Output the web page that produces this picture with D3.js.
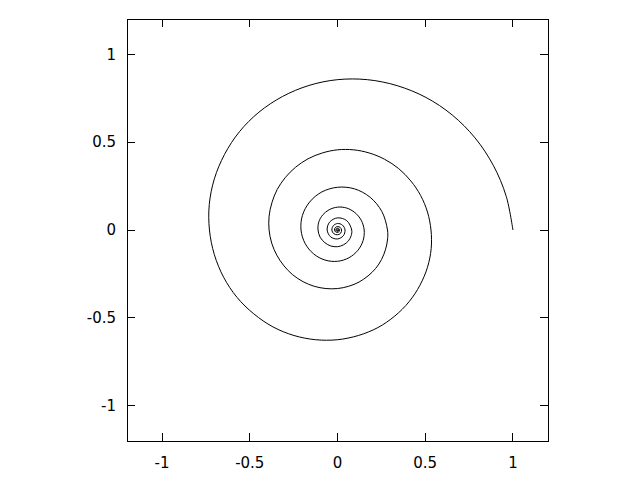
<!DOCTYPE html>
<html>
<head>
<meta charset="utf-8">
<script src="https://cdn.jsdelivr.net/npm/d3@7"></script>
<style>
  body { margin: 0; background: #fff; }
  svg text { font-family: "DejaVu Sans", sans-serif; font-size: 15px; fill: #000; }
</style>
</head>
<body>
<div id="chart"></div>
<script>
// spiral points, going inward from (1, 0):
// every 11.25 deg for turns 1-2, every 22.5 deg for turns 3-4, every 45 deg after that
const spiralX = [
  1.000, 0.962, 0.888, 0.784, 0.654, 0.504, 0.340, 0.170,
  0.000, -0.163, -0.314, -0.448, -0.559, -0.644, -0.702, -0.731,
  -0.730, -0.702, -0.649, -0.573, -0.477, -0.368, -0.248, -0.124,
  0.000, 0.119, 0.230, 0.327, 0.408, 0.470, 0.513, 0.534,
  0.533, 0.513, 0.474, 0.418, 0.349, 0.269, 0.181, 0.091,
  0.000, -0.087, -0.168, -0.239, -0.298, -0.344, -0.374, -0.390,
  -0.390, -0.375, -0.346, -0.305, -0.255, -0.196, -0.133, -0.066,
  0.000, 0.064, 0.123, 0.174, 0.218, 0.251, 0.273, 0.285,
  0.285, 0.253, 0.186, 0.097, 0.000, -0.090, -0.159, -0.200,
  -0.208, -0.185, -0.136, -0.071, 0.000, 0.065, 0.116, 0.146,
  0.152, 0.135, 0.099, 0.052, 0.000, -0.048, -0.085, -0.107,
  -0.111, -0.099, -0.072, -0.038, 0.000, 0.035, 0.062, 0.078,
  0.081, 0.053, 0.000, -0.045, -0.059, -0.039, 0.000, 0.033,
  0.043, 0.028, 0.000, -0.024, -0.032, -0.021, 0.000, 0.018,
  0.023, 0.015, 0.000, -0.013, -0.017, -0.011, 0.000, 0.009,
  0.012, 0.008, 0.000, -0.007, -0.009, -0.006, 0.000, 0.005,
  0.0066, 0.0043, 0.000, -0.0037, -0.0048, -0.0031, 0.000, 0.0027,
  0.0035
];
const spiralY = [
  0.000, 0.191, 0.368, 0.524, 0.654, 0.754, 0.821, 0.855,
  0.855, 0.822, 0.759, 0.670, 0.559, 0.430, 0.291, 0.145,
  0.000, -0.140, -0.269, -0.383, -0.477, -0.551, -0.600, -0.624,
  -0.624, -0.600, -0.555, -0.489, -0.408, -0.314, -0.212, -0.106,
  0.000, 0.102, 0.196, 0.279, 0.349, 0.402, 0.438, 0.456,
  0.456, 0.438, 0.405, 0.357, 0.298, 0.230, 0.155, 0.078,
  0.000, -0.075, -0.143, -0.204, -0.255, -0.294, -0.320, -0.333,
  -0.333, -0.320, -0.296, -0.261, -0.218, -0.168, -0.113, -0.057,
  0.000, 0.105, 0.186, 0.234, 0.243, 0.216, 0.159, 0.083,
  0.000, -0.076, -0.136, -0.171, -0.178, -0.158, -0.116, -0.060,
  0.000, 0.056, 0.099, 0.125, 0.130, 0.115, 0.085, 0.044,
  0.000, -0.041, -0.072, -0.091, -0.095, -0.084, -0.062, -0.032,
  0.000, 0.053, 0.069, 0.045, 0.000, -0.039, -0.051, -0.033,
  0.000, 0.028, 0.037, 0.024, 0.000, -0.021, -0.027, -0.018,
  0.000, 0.015, 0.020, 0.013, 0.000, -0.011, -0.014, -0.009,
  0.000, 0.008, 0.011, 0.007, 0.000, -0.006, -0.008, -0.005,
  0.000, 0.0043, 0.0056, 0.0037, 0.000, -0.0031, -0.0041, -0.0027,
  0.000
];
const xTicks = [-1, -0.5, 0, 0.5, 1];
const yTicks = [-1, -0.5, 0, 0.5, 1];
const xDomain = [-1.2, 1.2];
const yDomain = [-1.2, 1.2];

const width = 640, height = 480;
const margin = {top: 19, right: 92, bottom: 39, left: 127};
const tickLen = 8;

const svg = d3.select("#chart").append("svg")
  .attr("width", width)
  .attr("height", height);

const x = d3.scaleLinear().domain(xDomain).range([margin.left, width - margin.right]);
const y = d3.scaleLinear().domain(yDomain).range([height - margin.bottom, margin.top]);

const frame = svg.append("g").attr("stroke", "#000").attr("stroke-width", 1).attr("shape-rendering", "crispEdges");

// ticks on all four sides, pointing inward
xTicks.forEach(function(t){
  frame.append("line").attr("x1", x(t)).attr("x2", x(t))
    .attr("y1", y.range()[0]).attr("y2", y.range()[0] - tickLen);
  frame.append("line").attr("x1", x(t)).attr("x2", x(t))
    .attr("y1", y.range()[1]).attr("y2", y.range()[1] + tickLen);
});
yTicks.forEach(function(t){
  frame.append("line").attr("y1", y(t)).attr("y2", y(t))
    .attr("x1", x.range()[0]).attr("x2", x.range()[0] + tickLen);
  frame.append("line").attr("y1", y(t)).attr("y2", y(t))
    .attr("x1", x.range()[1]).attr("x2", x.range()[1] - tickLen);
});

frame.append("rect")
  .attr("x", x.range()[0]).attr("y", y.range()[1])
  .attr("width", x.range()[1] - x.range()[0])
  .attr("height", y.range()[0] - y.range()[1])
  .attr("fill", "none");

// tick labels
svg.selectAll("text.xlab").data(xTicks).enter().append("text")
  .attr("class", "xlab")
  .attr("x", function(d){ return x(d); })
  .attr("y", y.range()[0] + 27)
  .attr("text-anchor", "middle")
  .text(function(d){ return d; });

svg.selectAll("text.ylab").data(yTicks).enter().append("text")
  .attr("class", "ylab")
  .attr("x", x.range()[0] - 11)
  .attr("y", function(d){ return y(d); })
  .attr("dy", "0.36em")
  .attr("text-anchor", "end")
  .text(function(d){ return d; });

// the spiral
const pts = spiralX.map(function(v, i){ return [v, spiralY[i]]; });
const line = d3.line()
  .x(function(d){ return x(d[0]); })
  .y(function(d){ return y(d[1]); })
  .curve(d3.curveCatmullRom.alpha(0.5));

svg.append("path")
  .datum(pts)
  .attr("d", line)
  .attr("fill", "none")
  .attr("stroke", "#000")
  .attr("stroke-width", 1);
</script>
</body>
</html>
